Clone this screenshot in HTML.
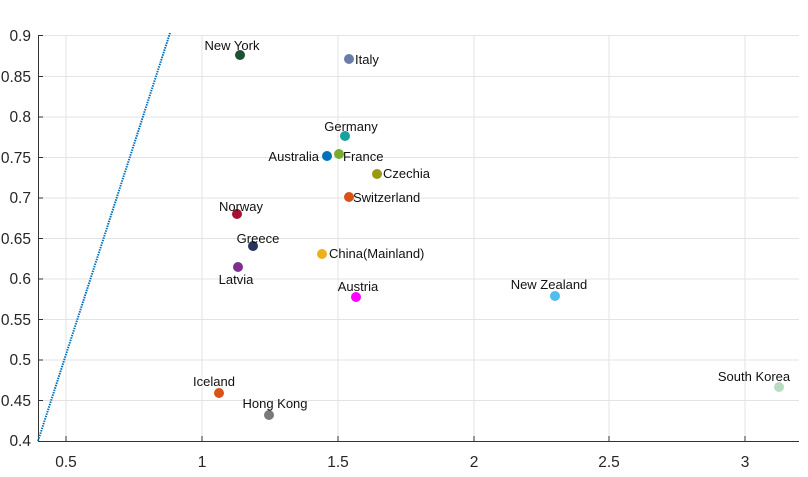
<!DOCTYPE html>
<html><head><style>body{margin:0;background:#fff}svg{display:block}text{font-family:"Liberation Sans",sans-serif;font-size:13px;fill:#111}.t{font-size:15.5px;fill:#262626}</style></head><body>
<svg width="808" height="477" viewBox="0 0 808 477">
<g stroke="#e3e3e3" stroke-width="1">
<line x1="66" y1="35" x2="66" y2="441"/><line x1="202" y1="35" x2="202" y2="441"/><line x1="338" y1="35" x2="338" y2="441"/><line x1="474" y1="35" x2="474" y2="441"/><line x1="609" y1="35" x2="609" y2="441"/><line x1="745" y1="35" x2="745" y2="441"/>
<line x1="38" y1="35.5" x2="799" y2="35.5"/><line x1="38" y1="76.5" x2="799" y2="76.5"/><line x1="38" y1="117" x2="799" y2="117"/><line x1="38" y1="157.5" x2="799" y2="157.5"/><line x1="38" y1="198" x2="799" y2="198"/><line x1="38" y1="238.5" x2="799" y2="238.5"/><line x1="38" y1="279" x2="799" y2="279"/><line x1="38" y1="319.5" x2="799" y2="319.5"/><line x1="38" y1="360" x2="799" y2="360"/><line x1="38" y1="400.5" x2="799" y2="400.5"/>
</g>
<g stroke="#333" stroke-width="1">
<line x1="38.5" y1="35" x2="38.5" y2="441"/><line x1="38" y1="441.5" x2="799" y2="441.5"/>
<line x1="38" y1="35.5" x2="43" y2="35.5"/><line x1="38" y1="76.5" x2="43" y2="76.5"/><line x1="38" y1="117" x2="43" y2="117"/><line x1="38" y1="157.5" x2="43" y2="157.5"/><line x1="38" y1="198" x2="43" y2="198"/><line x1="38" y1="238.5" x2="43" y2="238.5"/><line x1="38" y1="279" x2="43" y2="279"/><line x1="38" y1="319.5" x2="43" y2="319.5"/><line x1="38" y1="360" x2="43" y2="360"/><line x1="38" y1="400.5" x2="43" y2="400.5"/>
<line x1="66" y1="436" x2="66" y2="441"/><line x1="202" y1="436" x2="202" y2="441"/><line x1="338" y1="436" x2="338" y2="441"/><line x1="474" y1="436" x2="474" y2="441"/><line x1="609" y1="436" x2="609" y2="441"/><line x1="745" y1="436" x2="745" y2="441"/>
</g>
<g text-anchor="end">
<text class="t" x="31" y="41">0.9</text><text class="t" x="31" y="82">0.85</text><text class="t" x="31" y="122">0.8</text><text class="t" x="31" y="163">0.75</text><text class="t" x="31" y="203">0.7</text><text class="t" x="31" y="244">0.65</text><text class="t" x="31" y="284">0.6</text><text class="t" x="31" y="325">0.55</text><text class="t" x="31" y="365">0.5</text><text class="t" x="31" y="406">0.45</text><text class="t" x="31" y="446">0.4</text>
</g>
<g text-anchor="middle">
<text class="t" x="66" y="467">0.5</text><text class="t" x="202" y="467">1</text><text class="t" x="338" y="467">1.5</text><text class="t" x="474" y="467">2</text><text class="t" x="609" y="467">2.5</text><text class="t" x="745" y="467">3</text>
</g>
<line x1="38" y1="441" x2="170" y2="33" stroke="#0072bd" stroke-width="2" stroke-dasharray="1.5 1"/>
<circle cx="240" cy="55" r="5" fill="#1e5035"/>
<circle cx="349" cy="59" r="5" fill="#6a7ca8"/>
<circle cx="345" cy="136" r="5" fill="#17a2a0"/>
<circle cx="327" cy="156" r="5" fill="#0072bd"/>
<circle cx="339" cy="154" r="5" fill="#77ac30"/>
<circle cx="377" cy="174" r="5" fill="#9a9a10"/>
<circle cx="349" cy="197" r="5" fill="#d95319"/>
<circle cx="237" cy="214" r="5" fill="#a2142f"/>
<circle cx="253" cy="246" r="5" fill="#27355e"/>
<circle cx="322" cy="254" r="5" fill="#edb120"/>
<circle cx="238" cy="267" r="5" fill="#7e2f8e"/>
<circle cx="356" cy="297" r="5" fill="#ff00ff"/>
<circle cx="555" cy="296" r="5" fill="#4dbeee"/>
<circle cx="779" cy="387" r="5" fill="#b8dcc0"/>
<circle cx="219" cy="393" r="5" fill="#d95319"/>
<circle cx="269" cy="415" r="5" fill="#7a7a7a"/>
<text x="232" y="50" text-anchor="middle">New York</text>
<text x="355" y="64">Italy</text>
<text x="351" y="131" text-anchor="middle">Germany</text>
<text x="319" y="161" text-anchor="end">Australia</text>
<text x="343" y="161">France</text>
<text x="383" y="178">Czechia</text>
<text x="353" y="202">Switzerland</text>
<text x="241" y="211" text-anchor="middle">Norway</text>
<text x="258" y="243" text-anchor="middle">Greece</text>
<text x="329" y="258">China(Mainland)</text>
<text x="236" y="284" text-anchor="middle">Latvia</text>
<text x="358" y="291" text-anchor="middle">Austria</text>
<text x="549" y="289" text-anchor="middle">New Zealand</text>
<text x="754" y="381" text-anchor="middle">South Korea</text>
<text x="214" y="386" text-anchor="middle">Iceland</text>
<text x="275" y="408" text-anchor="middle">Hong Kong</text>
</svg>
</body></html>
